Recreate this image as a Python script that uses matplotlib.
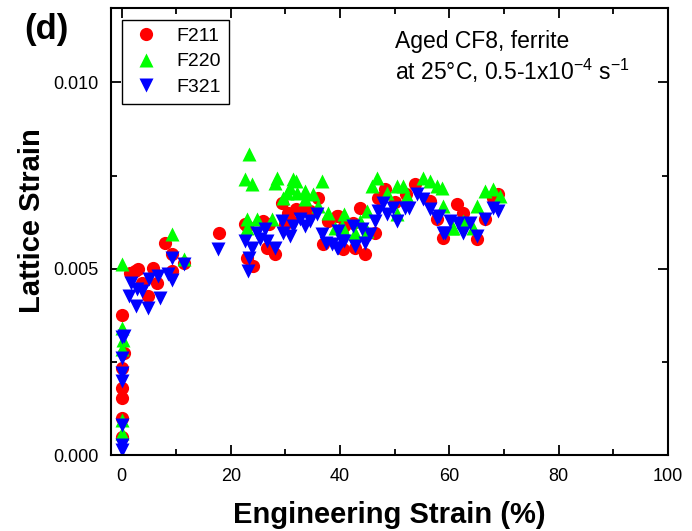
import matplotlib
matplotlib.use('Agg')
import matplotlib.pyplot as plt
from matplotlib.ticker import MultipleLocator

plt.rcParams['font.family'] = ['Liberation Sans', 'DejaVu Sans']
plt.rcParams['mathtext.fontset'] = 'custom'
plt.rcParams['mathtext.rm'] = 'Liberation Sans'

# F211 (red circles)
f211_x = [0, 0.4, 0, 0, 0, 0, 0,
          2.4, 5.7, 7.9, 9.2, 3.8, 4.8, 6.4, 9.2, 11.5, 1.5, 3.0, 17.8,
          22.5, 23.0, 25.8, 29.3, 32.0, 33.5, 34.4, 35.9, 37.7, 39.6, 22.9, 24.0,
          28.0, 26.6, 36.8, 29.9, 31.1, 32.6, 30.5, 27.0,
          43.6, 39.4, 46.9, 48.2, 53.7, 56.4, 57.7, 58.8, 61.4, 40.8, 40.5, 42.7,
          44.5, 46.3, 42.3, 50.0, 52.0,
          62.5, 65.0, 66.5, 68.9, 68.0]
f211_y = [0.00377, 0.00275, 0.00235, 0.0018, 0.00152, 0.0010, 0.00048,
          0.00495, 0.00503, 0.0057, 0.0054, 0.00463, 0.00428, 0.00463, 0.00495, 0.00516, 0.0049, 0.0050, 0.00596,
          0.0062, 0.00615, 0.00628, 0.00676, 0.0066, 0.0066, 0.00655, 0.0069, 0.00628, 0.00642, 0.0053, 0.00508,
          0.0054, 0.00556, 0.00567, 0.0062, 0.00628, 0.00655, 0.0065, 0.0062,
          0.00663, 0.00642, 0.0069, 0.00714, 0.00727, 0.00682, 0.00634, 0.00583, 0.00674, 0.00615, 0.00553, 0.00556,
          0.0054, 0.00596, 0.00623, 0.0068, 0.0070,
          0.0065, 0.0058, 0.00634, 0.0070, 0.0069]

# F220 (green up triangles)
f220_x = [0, 0, 0, 0, 0, 0.2,
          9.2, 11.5,
          23.4, 22.5, 23.8, 28.4, 28.0, 31.3, 32.0, 36.6, 30.8, 30.2, 29.5, 32.2,
          33.5, 33.5, 35.0, 35.9, 37.7, 22.9, 24.7, 27.5, 23.0, 39.0, 40.3,
          46.7, 45.8, 48.5, 50.4, 51.5, 52.2, 55.1, 56.4, 57.7, 58.8, 40.8, 45.0,
          43.6, 40.8, 42.7, 44.9, 50.5, 60.4,
          58.6, 60.6, 62.5, 65.0, 66.5, 68.0, 69.2, 64.3]
f220_y = [0.00513, 0.0034, 0.00286, 0.00094, 0.0006, 0.0031,
          0.00593, 0.00527,
          0.00807, 0.0074, 0.00727, 0.00743, 0.0073, 0.0074, 0.00735, 0.00735, 0.00717, 0.00703, 0.0069, 0.00703,
          0.00709, 0.00687, 0.0070, 0.00668, 0.0065, 0.00634, 0.00634, 0.00634, 0.0061, 0.0061, 0.00615,
          0.00743, 0.00722, 0.00703, 0.00722, 0.00722, 0.00695, 0.00743, 0.00735, 0.00722, 0.00668, 0.00647, 0.00655,
          0.00628, 0.00602, 0.00596, 0.00602, 0.00647, 0.0061,
          0.00717, 0.0061, 0.00628, 0.00668, 0.00709, 0.00714, 0.00695, 0.0061]

# F321 (blue down triangles)
f321_x = [0, 0, 0, 0, 0, 0, 0, 0.5,
          1.8, 1.3, 2.7, 4.8, 3.8, 5.1, 6.6, 7.0, 8.4, 9.2, 9.2, 11.5, 2.9, 17.6,
          22.5, 23.1, 23.4, 23.8, 24.7, 25.3, 26.2, 26.7, 28.0, 29.3, 29.5, 30.8,
          31.3, 32.6, 33.5, 34.4, 35.7, 36.6, 37.5, 38.5, 39.4, 40.3,
          39.6, 39.6, 40.8, 42.3, 42.7, 44.0, 44.5, 45.4, 46.3, 46.9, 47.8, 48.5,
          49.6, 50.5, 51.8, 52.7, 54.0, 55.1, 56.4, 57.7, 58.8, 60.1,
          58.2, 59.2, 61.5, 62.5, 63.7, 65.0, 66.5, 68.0, 69.0]
f321_y = [0.00316, 0.0026, 0.0022, 0.0020, 0.0008, 0.00027, 0.00013, 0.0032,
          0.00463, 0.00428, 0.0040, 0.00396, 0.0044, 0.00473, 0.00481, 0.00422, 0.00487, 0.0047, 0.0053, 0.00513, 0.00446, 0.00553,
          0.00575, 0.00495, 0.0053, 0.00556, 0.00596, 0.0058, 0.00607, 0.00575, 0.00556, 0.00628, 0.00596, 0.00588,
          0.00615, 0.00634, 0.00615, 0.00628, 0.00647, 0.00594, 0.0057, 0.00567, 0.00556, 0.00575,
          0.00602, 0.00556, 0.00575, 0.00615, 0.00562, 0.00607, 0.0057, 0.00594, 0.00628, 0.00655, 0.00676, 0.00647,
          0.00663, 0.00628, 0.00663, 0.00663, 0.0070, 0.00687, 0.0066, 0.00636, 0.00596, 0.00628,
          0.00642, 0.00596, 0.00623, 0.00596, 0.00623, 0.00588, 0.00634, 0.00663, 0.00655]

fig = plt.figure(figsize=(6.92, 5.31), dpi=100)
ax = fig.add_axes([0.160, 0.143, 0.805, 0.842])

ms = 9.5
ax.plot(f211_x, f211_y, 'o', color='#ff0000', ms=ms, mec='none', label='F211')
ax.plot(f220_x, f220_y, '^', color='#00ff00', ms=ms + 1, mec='none', label='F220')
ax.plot(f321_x, f321_y, 'v', color='#0000ff', ms=ms + 1, mec='none', label='F321')

ax.set_xlim(-2, 100)
ax.set_ylim(0, 0.012)
ax.xaxis.set_major_locator(MultipleLocator(20))
ax.xaxis.set_minor_locator(MultipleLocator(10))
ax.yaxis.set_major_locator(MultipleLocator(0.005))
ax.yaxis.set_minor_locator(MultipleLocator(0.0025))
ax.yaxis.set_major_formatter(plt.FuncFormatter(lambda v, p: '%.3f' % v))
ax.tick_params(which='both', direction='in', top=True, right=True, labelsize=13, width=1.3, pad=9)
ax.tick_params(which='major', length=7)
ax.tick_params(which='minor', length=4)
for s in ax.spines.values():
    s.set_linewidth(1.5)

ax.set_xlabel('Engineering Strain (%)', fontsize=21, fontweight='bold', labelpad=12)
ax.set_ylabel('Lattice Strain', fontsize=21, fontweight='bold')
ax.yaxis.set_label_coords(-0.116, 0.525)

leg = ax.legend(loc='upper left', fontsize=14, frameon=True, fancybox=False,
                edgecolor='black', framealpha=1, handletextpad=0.8,
                borderaxespad=0.6, labelspacing=0.4, handlelength=1.6, borderpad=0.4)
leg.get_frame().set_linewidth(1.0)

ax.text(0.51, 0.925, 'Aged CF8, ferrite', transform=ax.transAxes, fontsize=16.5, va='center')
ax.text(0.51, 0.86, r'at 25°C, 0.5-1x10$^{\mathregular{-4}}$ s$^{\mathregular{-1}}$',
        transform=ax.transAxes, fontsize=16.5, va='center')
fig.text(0.035, 0.945, '(d)', fontsize=25, fontweight='bold', va='center')

fig.savefig('out.png', dpi=100)
